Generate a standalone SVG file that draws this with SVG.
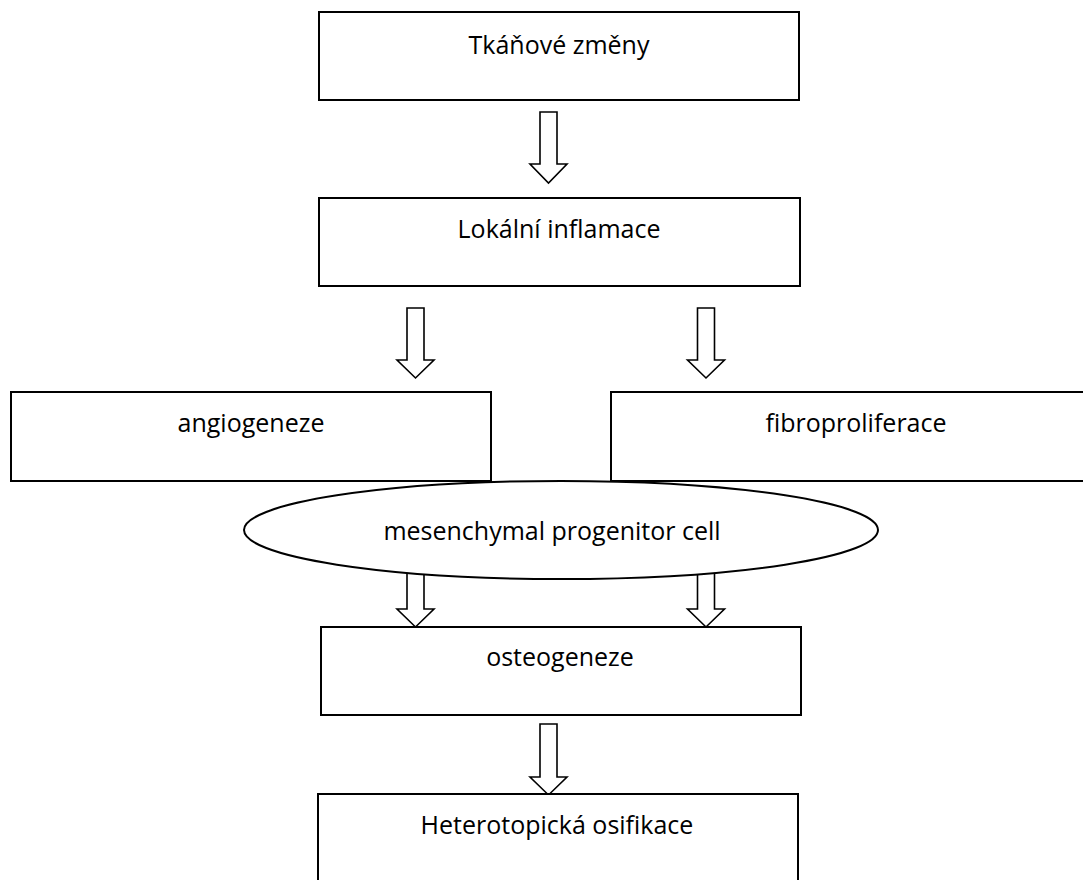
<svg xmlns="http://www.w3.org/2000/svg" width="1083" height="880" viewBox="0 0 1083 880">
<style>
.box{fill:#fff;stroke:#000;stroke-width:2}
.arr{fill:#fff;stroke:#000;stroke-width:1.6;stroke-linejoin:miter}
.t{font-family:"Open Sans","Noto Sans",sans-serif;font-size:25px;fill:#000;text-anchor:middle}
</style>
<rect width="1083" height="880" fill="#fff"/>
<g id="connectors">
<path class="arr" d="M540,112 H557 V164 H567 L548.5,183 L530,164 H540 Z"/>
<path class="arr" d="M407,308 H424 V360 H434 L415.5,378 L397,360 H407 Z"/>
<path class="arr" d="M697.5,308 H714.5 V360 H724.5 L706,378 L687.5,360 H697.5 Z"/>
<path class="arr" d="M407,572 H424 V609 H434 L415.5,627 L397,609 H407 Z"/>
<path class="arr" d="M697.5,572 H714.5 V609 H724.5 L706,627 L687.5,609 H697.5 Z"/>
<path class="arr" d="M540,724 H557 V777 H567 L548.5,795 L530,777 H540 Z"/>
</g>
<g id="n1"><rect class="box" x="319" y="12" width="480" height="88"/><text class="t" x="559" y="54">Tkáňové změny</text></g>
<g id="n2"><rect class="box" x="319" y="198" width="481" height="88"/><text class="t" x="559" y="238">Lokální inflamace</text></g>
<g id="n3"><rect class="box" x="11" y="392" width="480" height="89"/><text class="t" x="251" y="432">angiogeneze</text></g>
<g id="n4"><rect class="box" x="611" y="392" width="500" height="89"/><text class="t" x="856" y="432">fibroproliferace</text></g>
<g id="n5"><ellipse class="box" cx="561" cy="530" rx="317" ry="49"/><text class="t" x="552" y="540">mesenchymal progenitor cell</text></g>
<g id="n6"><rect class="box" x="321" y="627" width="480" height="88"/><text class="t" x="560" y="666">osteogeneze</text></g>
<g id="n7"><rect class="box" x="318" y="794" width="480" height="100"/><text class="t" x="557" y="834">Heterotopická osifikace</text></g>
</svg>
